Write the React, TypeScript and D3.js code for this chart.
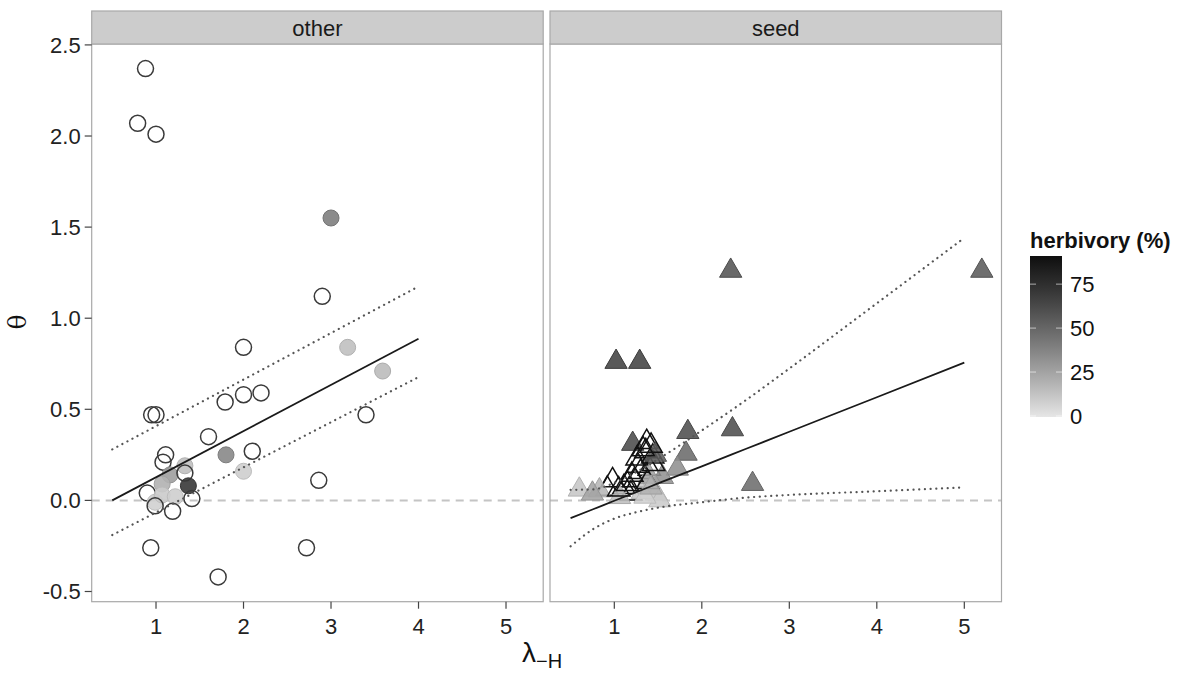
import React, { useEffect, useRef } from 'react';
import * as d3 from 'd3';

// "other" panel (circles); herbivory null = open symbol
const otherX = [0.88, 0.79, 1.0, 3.0, 2.9, 3.19, 2.0, 3.59, 0.95, 1.0, 1.79, 2.0, 2.2, 1.6, 3.4, 1.11, 1.08, 1.8, 2.1, 2.0, 2.86, 1.33, 1.16, 1.33, 1.37, 1.07, 0.9, 0.99, 1.07, 1.22, 1.41, 1.19, 0.99, 0.94, 2.72, 1.71];
const otherY = [2.37, 2.07, 2.01, 1.55, 1.12, 0.84, 0.84, 0.71, 0.47, 0.47, 0.54, 0.58, 0.59, 0.35, 0.47, 0.25, 0.21, 0.25, 0.27, 0.16, 0.11, 0.19, 0.14, 0.15, 0.08, 0.09, 0.04, -0.01, 0.03, 0.02, 0.01, -0.06, -0.03, -0.26, -0.26, -0.42];
const otherHerb = [null, null, null, 40, null, 14, null, 16, null, null, null, null, null, null, null, null, null, 36, null, 9, null, 14, 27, null, 70, 20, null, 8, 10, 9, null, null, null, null, null, null];

// "seed" panel (triangles)
const seedX = [5.2, 2.33, 1.02, 1.29, 2.35, 1.84, 1.21, 1.37, 1.82, 1.72, 2.58, 1.26, 1.44, 1.4, 1.3, 1.23, 0.98, 0.92, 1.11, 1.19, 0.6, 0.83, 0.75, 1.48, 1.52, 1.06, 1.32, 1.55, 1.4, 1.36, 1.45, 1.05, 1.15, 1.47, 1.33, 1.42, 1.27, 1.38, 1.2, 1.35, 1.42];
const seedY = [1.26, 1.26, 0.76, 0.76, 0.39, 0.375, 0.31, 0.32, 0.256, 0.174, 0.09, 0.23, 0.24, 0.174, 0.156, 0.11, 0.11, 0.064, 0.073, 0.037, 0.059, 0.055, 0.037, 0.037, 0.0, 0.018, 0.046, 0.128, 0.13, 0.27, 0.2, 0.06, 0.09, 0.25, 0.28, 0.3, 0.19, 0.1, 0.14, 0.02, 0.07];
const seedHerb = [55, 58, 66, 66, 60, 60, 62, null, 48, 33, 47, null, null, null, null, null, null, null, null, null, 12, 18, 25, 12, 10, 15, 11, 32, 25, null, null, null, null, 55, null, null, null, null, null, 8, 20];

// fitted lines with confidence bands
const otherFitX = [0.5, 4];
const otherFit = [0, 0.887];
const otherUpper = [0.28, 1.174];
const otherLower = [-0.19, 0.677];

const seedFitX = [0.5, 0.75, 1, 1.25, 1.5, 2, 2.5, 3, 4, 5];
const seedFit = [-0.097, -0.05, -0.002, 0.045, 0.093, 0.187, 0.282, 0.377, 0.566, 0.756];
const seedUpper = [0.058, 0.06, 0.096, 0.155, 0.226, 0.384, 0.549, 0.724, 1.082, 1.441];
const seedLower = [-0.252, -0.16, -0.1, -0.065, -0.04, -0.01, 0.015, 0.03, 0.05, 0.071];

const panelNames = ['other', 'seed'];
const xTicks = [1, 2, 3, 4, 5];
const yTicks = [-0.5, 0, 0.5, 1, 1.5, 2, 2.5];
const legendTicks = [0, 25, 50, 75];
const herbMax = 91;

const font = 'Liberation Sans, Arial, Helvetica, sans-serif';

export default function App() {
  const svgRef = useRef<SVGSVGElement>(null);

  useEffect(() => {
    const svg = d3.select(svgRef.current);
    svg.selectAll('*').remove();

    const panelTop = 44;
    const panelBottom = 601.7;
    const panelW = 451.5;
    const panelLefts = [91.7, 550];
    const stripTop = 11;

    const y = d3.scaleLinear().domain([-0.556, 2.505]).range([panelBottom, panelTop]);
    const color = d3
      .scaleLinear<string>()
      .domain([0, herbMax])
      .range(['#e6e6e6', '#0e0e0e'])
      .interpolate(d3.interpolateLab);

    const panels = [
      { name: panelNames[0], shape: 'circle', xs: otherX, ys: otherY, hs: otherHerb, fx: otherFitX, fit: otherFit, up: otherUpper, lo: otherLower },
      { name: panelNames[1], shape: 'triangle', xs: seedX, ys: seedY, hs: seedHerb, fx: seedFitX, fit: seedFit, up: seedUpper, lo: seedLower },
    ];

    const defs = svg.append('defs');

    panels.forEach((p, i) => {
      const left = panelLefts[i];
      const x = d3.scaleLinear().domain([0.265, 5.425]).range([left, left + panelW]);
      const g = svg.append('g');

      defs
        .append('clipPath')
        .attr('id', `clip-${i}`)
        .append('rect')
        .attr('x', left)
        .attr('y', panelTop)
        .attr('width', panelW)
        .attr('height', panelBottom - panelTop);

      g.append('rect')
        .attr('x', left)
        .attr('y', panelTop)
        .attr('width', panelW)
        .attr('height', panelBottom - panelTop)
        .attr('fill', '#fff');

      const inner = g.append('g').attr('clip-path', `url(#clip-${i})`);

      // zero reference line
      inner
        .append('line')
        .attr('x1', left)
        .attr('x2', left + panelW)
        .attr('y1', y(0))
        .attr('y2', y(0))
        .attr('stroke', '#c4c4c4')
        .attr('stroke-width', 2)
        .attr('stroke-dasharray', '8,6');

      const pts = p.xs.map((v, k) => ({ x: v, y: p.ys[k], h: p.hs[k] }));

      if (p.shape === 'circle') {
        inner
          .selectAll('circle.pt')
          .data(pts)
          .join('circle')
          .attr('class', 'pt')
          .attr('cx', (d) => x(d.x))
          .attr('cy', (d) => y(d.y))
          .attr('r', 8)
          .attr('fill', (d) => (d.h === null ? 'none' : color(d.h)))
          .attr('fill-opacity', 0.9)
          .attr('stroke', (d) => (d.h === null ? '#3a3a3a' : d3.color(color(d.h))!.darker(0.25).toString()))
          .attr('stroke-width', (d) => (d.h === null ? 1.5 : 1));
      } else {
        const tri = d3.symbol().type(d3.symbolTriangle).size(215);
        inner
          .selectAll('path.pt')
          .data(pts)
          .join('path')
          .attr('class', 'pt')
          .attr('d', tri)
          .attr('transform', (d) => `translate(${x(d.x)},${y(d.y)})`)
          .attr('fill', (d) => (d.h === null ? 'none' : color(d.h)))
          .attr('fill-opacity', 0.88)
          .attr('stroke', (d) => (d.h === null ? '#111' : d3.color(color(d.h))!.darker(0.3).toString()))
          .attr('stroke-width', (d) => (d.h === null ? 1.5 : 1));
      }

      const line = d3
        .line<number>()
        .x((d, k) => x(p.fx[k]))
        .y((d) => y(d))
        .curve(d3.curveMonotoneX);

      [p.up, p.lo].forEach((band) => {
        inner
          .append('path')
          .attr('d', line(band))
          .attr('fill', 'none')
          .attr('stroke', '#555')
          .attr('stroke-width', 2.2)
          .attr('stroke-linecap', 'round')
          .attr('stroke-dasharray', '0.1,5.6');
      });
      inner
        .append('path')
        .attr('d', line(p.fit))
        .attr('fill', 'none')
        .attr('stroke', '#1a1a1a')
        .attr('stroke-width', 1.8);

      // panel border
      g.append('rect')
        .attr('x', left)
        .attr('y', panelTop)
        .attr('width', panelW)
        .attr('height', panelBottom - panelTop)
        .attr('fill', 'none')
        .attr('stroke', '#a8a8a8')
        .attr('stroke-width', 1.2);

      // strip
      g.append('rect')
        .attr('x', left)
        .attr('y', stripTop)
        .attr('width', panelW)
        .attr('height', panelTop - stripTop)
        .attr('fill', '#cccccc')
        .attr('stroke', '#a8a8a8')
        .attr('stroke-width', 1.2);
      g.append('text')
        .attr('x', left + panelW / 2)
        .attr('y', (stripTop + panelTop) / 2 + 8)
        .attr('text-anchor', 'middle')
        .attr('font-family', font)
        .attr('font-size', 22)
        .attr('fill', '#1a1a1a')
        .text(p.name);

      // x axis
      const xa = g.append('g').attr('transform', `translate(0,${panelBottom})`);
      xa.selectAll('line')
        .data(xTicks)
        .join('line')
        .attr('x1', (d) => x(d))
        .attr('x2', (d) => x(d))
        .attr('y1', 0)
        .attr('y2', 7)
        .attr('stroke', '#444')
        .attr('stroke-width', 1.2);
      xa.selectAll('text')
        .data(xTicks)
        .join('text')
        .attr('x', (d) => x(d))
        .attr('y', 32)
        .attr('text-anchor', 'middle')
        .attr('font-family', font)
        .attr('font-size', 22)
        .attr('fill', '#222')
        .text((d) => d);
    });

    // y axis
    const left0 = panelLefts[0];
    const ya = svg.append('g');
    ya.selectAll('line')
      .data(yTicks)
      .join('line')
      .attr('x1', left0 - 7)
      .attr('x2', left0)
      .attr('y1', (d) => y(d))
      .attr('y2', (d) => y(d))
      .attr('stroke', '#444')
      .attr('stroke-width', 1.2);
    ya.selectAll('text')
      .data(yTicks)
      .join('text')
      .attr('x', left0 - 11)
      .attr('y', (d) => y(d) + 8)
      .attr('text-anchor', 'end')
      .attr('font-family', font)
      .attr('font-size', 22)
      .attr('fill', '#222')
      .text((d) => d3.format('.1f')(d).replace('\u2212', '-'));

    // axis titles
    svg
      .append('text')
      .attr('transform', 'translate(26,322) rotate(-90)')
      .attr('text-anchor', 'middle')
      .attr('font-family', 'DejaVu Serif, serif')
      .attr('font-size', 25)
      .attr('fill', '#111')
      .text('\u03b8');
    const xt = svg
      .append('text')
      .attr('x', 522)
      .attr('y', 662)
      .attr('font-family', font)
      .attr('fill', '#111');
    xt.append('tspan').attr('font-size', 28).text('\u03bb');
    xt.append('tspan').attr('font-size', 20).attr('dy', 6).text('\u2212H');

    // legend
    const lx = 1030;
    const lw = 32;
    const ly = d3.scaleLinear().domain([0, herbMax]).range([416, 256]);
    const grad = defs
      .append('linearGradient')
      .attr('id', 'herbGrad')
      .attr('x1', 0)
      .attr('x2', 0)
      .attr('y1', 1)
      .attr('y2', 0);
    d3.range(0, 1.0001, 0.1).forEach((t) => {
      grad
        .append('stop')
        .attr('offset', t)
        .attr('stop-color', color(t * herbMax));
    });
    svg
      .append('text')
      .attr('x', lx)
      .attr('y', 248)
      .attr('font-family', font)
      .attr('font-size', 22)
      .attr('font-weight', 'bold')
      .attr('fill', '#111')
      .text('herbivory (%)');
    svg
      .append('rect')
      .attr('x', lx)
      .attr('y', ly(herbMax))
      .attr('width', lw)
      .attr('height', ly(0) - ly(herbMax) + 1)
      .attr('fill', 'url(#herbGrad)');
    const lt = svg.append('g');
    legendTicks.forEach((v) => {
      [lx, lx + lw - 6].forEach((x0) => {
        lt.append('line')
          .attr('x1', x0)
          .attr('x2', x0 + 6)
          .attr('y1', ly(v))
          .attr('y2', ly(v))
          .attr('stroke', '#fff')
          .attr('stroke-opacity', 0.6)
          .attr('stroke-width', 1);
      });
      lt.append('text')
        .attr('x', lx + lw + 8)
        .attr('y', ly(v) + 8)
        .attr('font-family', font)
        .attr('font-size', 22)
        .attr('fill', '#111')
        .text(v);
    });
  }, []);

  return (
    <svg
      ref={svgRef}
      width={1189}
      height={673}
      style={{ position: 'absolute', left: 0, top: 0, background: '#fff' }}
    />
  );
}
